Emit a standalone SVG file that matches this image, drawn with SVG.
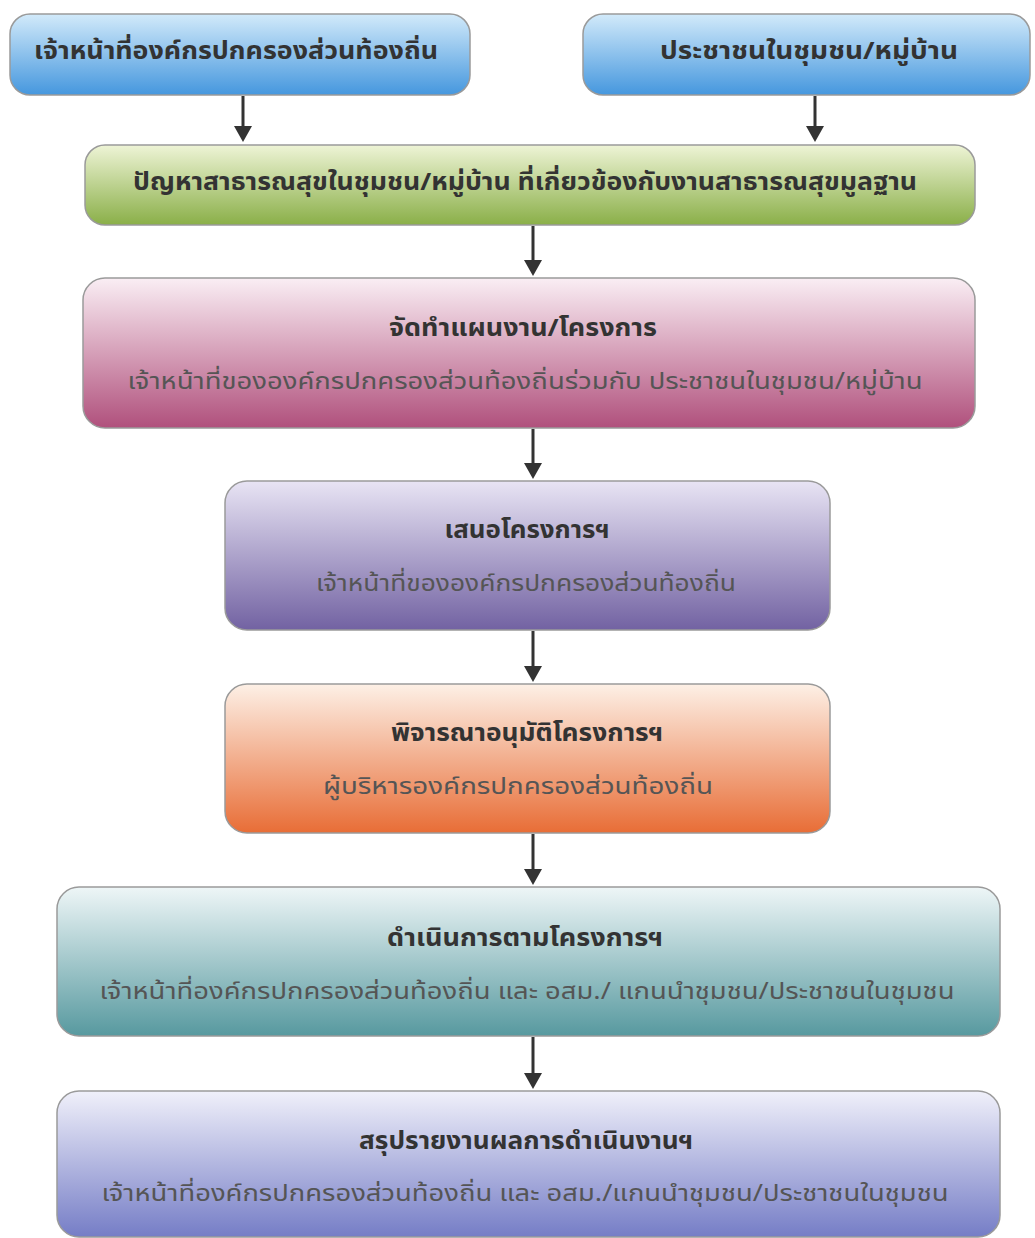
<svg xmlns="http://www.w3.org/2000/svg" width="1035" height="1238" viewBox="0 0 1035 1238">
<defs>
<linearGradient id="gBlue" x1="0" y1="0" x2="0" y2="1"><stop offset="0" stop-color="#d2eafa"/><stop offset="1" stop-color="#4597de"/></linearGradient>
<linearGradient id="gGreen" x1="0" y1="0" x2="0" y2="1"><stop offset="0" stop-color="#eef4d6"/><stop offset="1" stop-color="#8aaf48"/></linearGradient>
<linearGradient id="gPink" x1="0" y1="0" x2="0" y2="1"><stop offset="0" stop-color="#faeef4"/><stop offset="1" stop-color="#b0507c"/></linearGradient>
<linearGradient id="gPurple" x1="0" y1="0" x2="0" y2="1"><stop offset="0" stop-color="#e8e4f4"/><stop offset="1" stop-color="#7262a2"/></linearGradient>
<linearGradient id="gOrange" x1="0" y1="0" x2="0" y2="1"><stop offset="0" stop-color="#fdf0e6"/><stop offset="1" stop-color="#e86d36"/></linearGradient>
<linearGradient id="gTeal" x1="0" y1="0" x2="0" y2="1"><stop offset="0" stop-color="#eef6f7"/><stop offset="1" stop-color="#57999f"/></linearGradient>
<linearGradient id="gLav" x1="0" y1="0" x2="0" y2="1"><stop offset="0" stop-color="#f0f0fa"/><stop offset="1" stop-color="#757dc6"/></linearGradient>
</defs>
<style>
.box{stroke:#9a9a9a;stroke-width:1.5}
.t{font-family:"Noto Sans Thai","Noto Sans","DejaVu Sans",sans-serif;text-anchor:middle;dominant-baseline:central}
.h{font-size:24px;font-weight:bold;fill:#333}
.s{font-size:23px;fill:#555}
.c{stroke:#333;stroke-width:3;fill:none}
.hd{fill:#333}
</style>
<rect width="1035" height="1238" fill="#ffffff"/>
<g id="connectors">
<line class="c" x1="243" y1="96" x2="243" y2="128"/><path class="hd" d="M234,126 L252,126 L243,142 Z"/>
<line class="c" x1="815" y1="96" x2="815" y2="128"/><path class="hd" d="M806,126 L824,126 L815,142 Z"/>
<line class="c" x1="533" y1="226" x2="533" y2="262"/><path class="hd" d="M524,260 L542,260 L533,276 Z"/>
<line class="c" x1="533" y1="429" x2="533" y2="465"/><path class="hd" d="M524,463 L542,463 L533,479 Z"/>
<line class="c" x1="533" y1="631" x2="533" y2="668"/><path class="hd" d="M524,666 L542,666 L533,682 Z"/>
<line class="c" x1="533" y1="834" x2="533" y2="871"/><path class="hd" d="M524,869 L542,869 L533,885 Z"/>
<line class="c" x1="533" y1="1037" x2="533" y2="1075"/><path class="hd" d="M524,1073 L542,1073 L533,1089 Z"/>
</g>
<g id="n1">
<rect class="box" x="10" y="14" width="460" height="81" rx="20" fill="url(#gBlue)"/>
<text class="t h" x="236" y="52" textLength="404" lengthAdjust="spacingAndGlyphs">เจ้าหน้าที่องค์กรปกครองส่วนท้องถิ่น</text>
</g>
<g id="n2">
<rect class="box" x="583" y="14" width="447" height="81" rx="20" fill="url(#gBlue)"/>
<text class="t h" x="809" y="52" textLength="298" lengthAdjust="spacingAndGlyphs">ประชาชนในชุมชน/หมู่บ้าน</text>
</g>
<g id="n3">
<rect class="box" x="85" y="145" width="890" height="80" rx="20" fill="url(#gGreen)"/>
<text class="t h" x="525" y="183" textLength="784" lengthAdjust="spacingAndGlyphs">ปัญหาสาธารณสุขในชุมชน/หมู่บ้าน ที่เกี่ยวข้องกับงานสาธารณสุขมูลฐาน</text>
</g>
<g id="n4">
<rect class="box" x="83" y="278" width="892" height="150" rx="22" fill="url(#gPink)"/>
<text class="t h" x="523" y="329" textLength="268" lengthAdjust="spacingAndGlyphs">จัดทำแผนงาน/โครงการ</text>
<text class="t s" x="525" y="382" textLength="795" lengthAdjust="spacingAndGlyphs">เจ้าหน้าที่ขององค์กรปกครองส่วนท้องถิ่นร่วมกับ ประชาชนในชุมชน/หมู่บ้าน</text>
</g>
<g id="n5">
<rect class="box" x="225" y="481" width="605" height="149" rx="22" fill="url(#gPurple)"/>
<text class="t h" x="527" y="531" textLength="165" lengthAdjust="spacingAndGlyphs">เสนอโครงการฯ</text>
<text class="t s" x="526" y="584" textLength="420" lengthAdjust="spacingAndGlyphs">เจ้าหน้าที่ขององค์กรปกครองส่วนท้องถิ่น</text>
</g>
<g id="n6">
<rect class="box" x="225" y="684" width="605" height="149" rx="22" fill="url(#gOrange)"/>
<text class="t h" x="527" y="734" textLength="272" lengthAdjust="spacingAndGlyphs">พิจารณาอนุมัติโครงการฯ</text>
<text class="t s" x="518" y="787" textLength="390" lengthAdjust="spacingAndGlyphs">ผู้บริหารองค์กรปกครองส่วนท้องถิ่น</text>
</g>
<g id="n7">
<rect class="box" x="57" y="887" width="943" height="149" rx="22" fill="url(#gTeal)"/>
<text class="t h" x="525" y="939" textLength="276" lengthAdjust="spacingAndGlyphs">ดำเนินการตามโครงการฯ</text>
<text class="t s" x="527" y="992" textLength="855" lengthAdjust="spacingAndGlyphs">เจ้าหน้าที่องค์กรปกครองส่วนท้องถิ่น และ อสม./ แกนนำชุมชน/ประชาชนในชุมชน</text>
</g>
<g id="n8">
<rect class="box" x="57" y="1091" width="943" height="146" rx="22" fill="url(#gLav)"/>
<text class="t h" x="526" y="1142" textLength="334" lengthAdjust="spacingAndGlyphs">สรุปรายงานผลการดำเนินงานฯ</text>
<text class="t s" x="525" y="1194" textLength="847" lengthAdjust="spacingAndGlyphs">เจ้าหน้าที่องค์กรปกครองส่วนท้องถิ่น และ อสม./แกนนำชุมชน/ประชาชนในชุมชน</text>
</g>
</svg>
